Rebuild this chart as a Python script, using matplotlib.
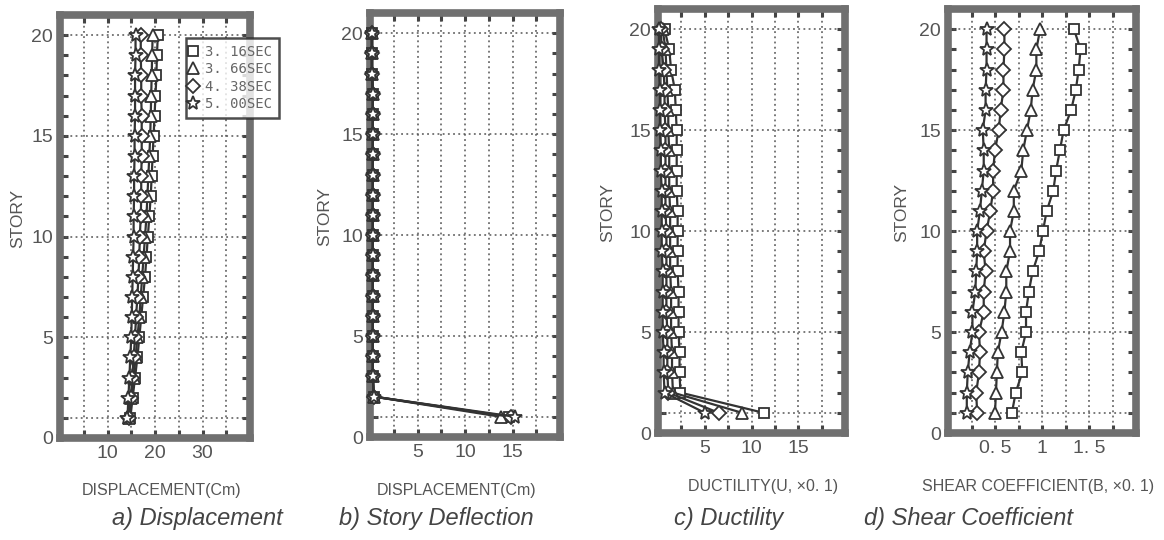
import numpy as np
import matplotlib
matplotlib.use("Agg")
import matplotlib.pyplot as plt
from matplotlib.ticker import MultipleLocator, FixedLocator

stories = list(range(1, 21))
series_names = ["3. 16SEC", "3. 66SEC", "4. 38SEC", "5. 00SEC"]

# a) displacement (cm)
disp_316 = [14.8, 15.3, 15.8, 16.3, 16.7, 17.1, 17.5, 17.9, 18.2, 18.5,
            18.8, 19.1, 19.3, 19.5, 19.7, 19.9, 20.1, 20.3, 20.4, 20.6]
disp_366 = [14.6, 15.0, 15.5, 15.9, 16.3, 16.7, 17.0, 17.3, 17.6, 17.9,
            18.2, 18.4, 18.6, 18.8, 19.0, 19.1, 19.2, 19.3, 19.4, 19.5]
disp_438 = [14.5, 14.9, 15.2, 15.5, 15.8, 16.0, 16.3, 16.5, 16.7, 16.8,
            17.0, 17.1, 17.1, 17.2, 17.2, 17.2, 17.1, 17.1, 17.0, 17.0]
disp_500 = [14.2, 14.4, 14.6, 14.8, 15.0, 15.1, 15.2, 15.3, 15.4, 15.5,
            15.5, 15.6, 15.6, 15.7, 15.7, 15.8, 15.8, 15.8, 15.9, 15.9]

# b) story deflection (cm)
defl_316 = [14.6, 0.4, 0.3, 0.3, 0.3, 0.3, 0.3, 0.3, 0.3, 0.3,
            0.3, 0.3, 0.3, 0.3, 0.3, 0.3, 0.3, 0.2, 0.2, 0.2]
defl_366 = [13.8, 0.4, 0.3, 0.3, 0.3, 0.3, 0.3, 0.3, 0.3, 0.3,
            0.3, 0.3, 0.3, 0.3, 0.3, 0.3, 0.3, 0.2, 0.2, 0.2]
defl_438 = [14.8, 0.4, 0.3, 0.3, 0.3, 0.3, 0.3, 0.3, 0.3, 0.3,
            0.3, 0.3, 0.3, 0.3, 0.3, 0.3, 0.3, 0.2, 0.2, 0.2]
defl_500 = [15.3, 0.4, 0.3, 0.3, 0.3, 0.3, 0.3, 0.3, 0.3, 0.3,
            0.3, 0.3, 0.3, 0.3, 0.3, 0.3, 0.3, 0.2, 0.2, 0.2]

# c) ductility (x0.1)
duct_316 = [11.3, 2.4, 2.3, 2.3, 2.2, 2.2, 2.2, 2.1, 2.1, 2.1,
            2.1, 2.0, 2.0, 2.0, 2.0, 1.9, 1.8, 1.4, 1.2, 0.7]
duct_366 = [9.0, 1.6, 1.5, 1.5, 1.4, 1.4, 1.4, 1.3, 1.3, 1.3,
            1.3, 1.2, 1.2, 1.2, 1.1, 1.1, 1.0, 0.9, 0.8, 0.5]
duct_438 = [6.5, 1.1, 1.0, 1.0, 1.0, 0.9, 0.9, 0.9, 0.9, 0.9,
            0.8, 0.8, 0.8, 0.8, 0.8, 0.7, 0.7, 0.6, 0.4, 0.3]
duct_500 = [5.0, 0.7, 0.6, 0.6, 0.5, 0.5, 0.5, 0.5, 0.4, 0.4,
            0.4, 0.4, 0.3, 0.3, 0.2, 0.2, 0.2, 0.1, 0.1, 0.1]

# d) shear coefficient (x0.1)
shear_316 = [0.68, 0.72, 0.79, 0.78, 0.83, 0.83, 0.86, 0.90, 0.97, 1.01,
             1.05, 1.12, 1.15, 1.19, 1.23, 1.31, 1.36, 1.39, 1.41, 1.34]
shear_366 = [0.50, 0.51, 0.52, 0.53, 0.57, 0.60, 0.62, 0.62, 0.66, 0.66,
             0.70, 0.70, 0.78, 0.80, 0.84, 0.88, 0.90, 0.94, 0.94, 0.98]
shear_438 = [0.31, 0.30, 0.33, 0.34, 0.33, 0.38, 0.38, 0.40, 0.38, 0.41,
             0.45, 0.48, 0.48, 0.50, 0.54, 0.56, 0.59, 0.59, 0.60, 0.60]
shear_500 = [0.20, 0.20, 0.21, 0.23, 0.26, 0.26, 0.29, 0.30, 0.31, 0.31,
             0.34, 0.36, 0.38, 0.38, 0.37, 0.40, 0.40, 0.41, 0.41, 0.41]

panels = [
    dict(data=[disp_316, disp_366, disp_438, disp_500], xlim=(0, 40),
         xticks=[10, 20, 30], xlabels=["10", "20", "30"], minor=5,
         xlabel="DISPLACEMENT(Cm)", title="a) Displacement",
         rect=(60, 250, 15, 438), xlab_pos=(162, 491), ylab_x=18, title_x=197),
    dict(data=[defl_316, defl_366, defl_438, defl_500], xlim=(0, 20),
         xticks=[5, 10, 15], xlabels=["5", "10", "15"], minor=2.5,
         xlabel="DISPLACEMENT(Cm)", title="b) Story Deflection",
         rect=(370, 560, 13, 437), xlab_pos=(457, 491), ylab_x=325, title_x=436),
    dict(data=[duct_316, duct_366, duct_438, duct_500], xlim=(0, 20),
         xticks=[5, 10, 15], xlabels=["5", "10", "15"], minor=2.5,
         xlabel="DUCTILITY(U, \u00d70. 1)", title="c) Ductility",
         rect=(658, 845, 9, 433), xlab_pos=(763, 487), ylab_x=608, title_x=729),
    dict(data=[shear_316, shear_366, shear_438, shear_500], xlim=(0, 2),
         xticks=[0.5, 1, 1.5], xlabels=["0. 5", "1", "1. 5"], minor=0.25,
         xlabel="SHEAR COEFFICIENT(B, \u00d70. 1)", title="d) Shear Coefficient",
         rect=(948, 1136, 9, 433), xlab_pos=(1038, 487), ylab_x=902, title_x=969),
]

markers = ["s", "^", "D", "*"]
msizes = [7, 8, 7, 10]
narrow = ["Liberation Sans", "DejaVu Sans"]
ink = "#333333"
txt = "#555555"

W, H = 1164, 540
fig = plt.figure(figsize=(W / 100, H / 100), dpi=100)

for i, p in enumerate(panels):
    l, r, t, b = p["rect"]
    ax = fig.add_axes([l / W, (H - b) / H, (r - l) / W, (b - t) / H])
    ax.set_xlim(*p["xlim"])
    ax.set_ylim(0, 21)

    for vals, m, ms, name in zip(p["data"], markers, msizes, series_names):
        ax.plot(vals, stories, marker=m, ms=ms, mfc="white", mec=ink, mew=1.3,
                color=ink, lw=1.6, clip_on=False, zorder=4, label=name)

    # grid
    for g in [1, 5, 10, 15, 20]:
        ax.axhline(g, color="#555555", lw=1.1, ls=(0, (1.2, 2.2)), zorder=1)
    ax.xaxis.set_minor_locator(MultipleLocator(p["minor"]))
    ax.grid(axis="x", which="both", color="#555555", lw=1.1, ls=(0, (1.2, 2.2)))
    ax.set_axisbelow(True)

    ax.set_xticks(p["xticks"])
    ax.set_xticklabels(p["xlabels"])
    ax.yaxis.set_major_locator(FixedLocator([0, 5, 10, 15, 20]))
    ax.yaxis.set_minor_locator(MultipleLocator(1))
    ax.tick_params(which="both", direction="in", top=True, right=True,
                   length=6, width=2.2, color="#444444", labelsize=14,
                   labelcolor=txt, pad=5)
    for lab in ax.get_xticklabels() + ax.get_yticklabels():
        lab.set_family(narrow)

    for s in ax.spines.values():
        s.set_linewidth(5.5)
        s.set_color("#707070")

    ax.set_xlabel(p["xlabel"], family=narrow, fontsize=11.5, color=txt)
    xl, yl = p["xlab_pos"]
    ax.xaxis.set_label_coords((xl - l) / (r - l), (b - yl) / (b - t))
    ax.xaxis.label.set_va("center")
    ax.set_ylabel("STORY", family=narrow, fontsize=12.5, color=txt)
    ax.yaxis.set_label_coords((p["ylab_x"] - l) / (r - l), 0.52)
    ax.yaxis.label.set_va("center")

    fig.text(p["title_x"] / W, 1 - 518 / H, p["title"], ha="center", va="center",
             fontsize=17, style="italic", color="#444444", family=narrow)

    if i == 0:
        leg = ax.legend(loc="upper left", bbox_to_anchor=(179 / W, 1 - 31 / H),
                        bbox_transform=fig.transFigure, frameon=True,
                        fancybox=False, edgecolor="#222222", handlelength=0,
                        handletextpad=0.9, borderpad=0.5, labelspacing=0.25,
                        prop={"family": "DejaVu Sans Mono", "size": 10},
                        labelcolor="#666666")
        leg.get_frame().set_linewidth(1.8)
        for h in leg.legend_handles:
            h.set_linestyle("none")
        leg.set_zorder(10)

fig.savefig("out.png", dpi=100, facecolor="white")
